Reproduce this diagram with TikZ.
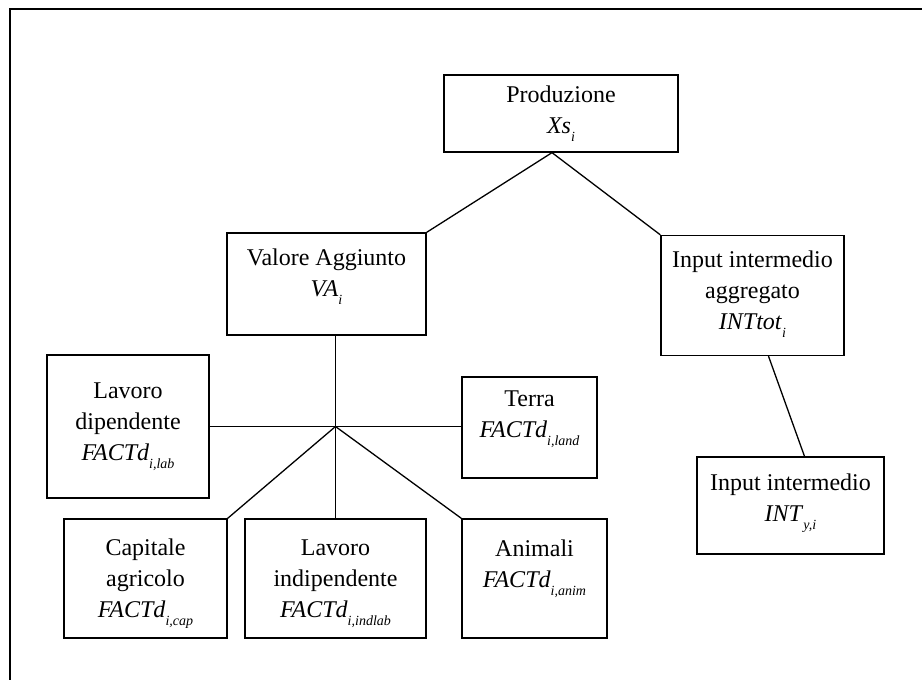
\documentclass[tikz,border=0pt]{standalone}
\usepackage{fontspec}
\setmainfont{Liberation Serif}
\newcommand\sbx[1]{\raisebox{-0.32em}{\fontsize{14}{14}\selectfont\textit{#1}}}
\begin{document}
\begin{tikzpicture}[x=1pt,y=-1pt,
  box/.style={draw,line width=1.3pt,inner sep=0pt},
  txt/.style={align=center,inner sep=0pt,font=\fontsize{24}{31}\selectfont},
  link/.style={line width=1.3pt}]
\useasboundingbox (0,0) rectangle (922,680);
\draw[line width=2.2pt] (10,680) -- (10,9) -- (922,9);
% boxes: centre x, centre y, width, height
\node[box,minimum width=234,minimum height=77] (prod) at (561,113.5) {};
\node[box,minimum width=199,minimum height=102] (va) at (326.5,284) {};
\node[box,minimum width=183,minimum height=120] (itot) at (752.5,295.5) {};
\node[box,minimum width=187,minimum height=97] (int) at (790.5,505.5) {};
\node[box,minimum width=162,minimum height=143] (lab) at (128,426.5) {};
\node[box,minimum width=135,minimum height=101] (land) at (529.5,427.5) {};
\node[box,minimum width=163,minimum height=119] (cap) at (145.5,578.5) {};
\node[box,minimum width=181,minimum height=119] (ind) at (335.5,578.5) {};
\node[box,minimum width=145,minimum height=119] (anim) at (534.5,578.5) {};
% texts
\node[txt] (prodT) at (prod.center) {Produzione\\ \textit{Xs}\sbx{i}};
\node[txt,yshift=7pt] (vaT) at (va.center) {Valore Aggiunto\\ \textit{VA}\sbx{i}};
\node[txt,yshift=1pt] (itotT) at (itot.center) {Input intermedio\\ aggregato\\ \textit{INTtot}\sbx{i}};
\node[txt,yshift=2pt] (intT) at (int.center) {Input intermedio\\ \textit{INT}\sbx{y,i}};
\node[txt] (labT) at (lab.center) {Lavoro\\ dipendente\\ \textit{FACTd}\sbx{i,lab}};
\node[txt,yshift=8pt] (landT) at (land.center) {Terra\\ \textit{FACTd}\sbx{i,land}};
\node[txt,yshift=-5pt] (capT) at (cap.center) {Capitale\\ agricolo\\ \textit{FACTd}\sbx{i,cap}};
\node[txt,yshift=-5pt] (indT) at (ind.center) {Lavoro\\ indipendente\\ \textit{FACTd}\sbx{i,indlab}};
\node[txt,yshift=10pt] (animT) at (anim.center) {Animali\\ \textit{FACTd}\sbx{i,anim}};
% connectors
\coordinate (apex) at ([xshift=-9pt]prod.south);
\coordinate (hub) at ([xshift=9pt]va.south |- lab.east);
\draw[link] (va.north east) -- (apex) -- (itot.north west);
\draw[link] ([xshift=16pt]itot.south) -- ([xshift=14pt]int.north);
\draw[link] ([xshift=9pt]va.south) -- (hub) -- (hub |- ind.north);
\draw[link] (lab.east |- hub) -- (land.west |- hub);
\draw[link] (cap.north east) -- (hub) -- (anim.north west);
\end{tikzpicture}
\end{document}
